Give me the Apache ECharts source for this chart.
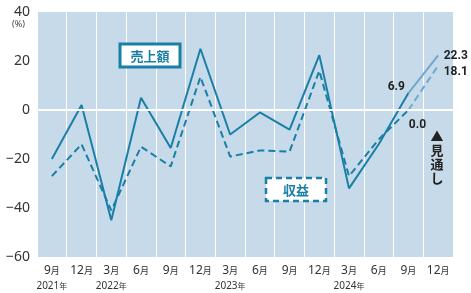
<!DOCTYPE html>
<html>
<head>
<meta charset="utf-8">
<script src="https://cdn.jsdelivr.net/npm/echarts@6/dist/echarts.min.js"></script>
<style>
  html, body { margin: 0; padding: 0; background: #fff; }
  #chart { width: 471px; height: 293px; }
</style>
</head>
<body>
<div id="chart"></div>
<script>
// 四半期(月)ラベル
var months = ['9', '12', '3', '6', '9', '12', '3', '6', '9', '12', '3', '6', '9', '12'];
var years = ['2021', '', '2022', '', '', '', '2023', '', '', '', '2024', '', '', ''];
var yTicks = [-60, -40, -20, 0, 20, 40];
// 売上額 (実績)
var sales = [-20, 2, -45, 5, -15.5, 25, -10, -1, -8, 22.4, -32, -14, 6.9, null];
// 収益 (実績)
var profit = [-27, -14, -41, -15, -23, 13.5, -19, -16.5, -17, 16, -27, -12, 0.0, null];
// 見通し
var salesOutlook = [null, null, null, null, null, null, null, null, null, null, null, null, 6.9, 22.3];
var profitOutlook = [null, null, null, null, null, null, null, null, null, null, null, null, 0.0, 18.1];

var main = '#1a7fa6';
var light = '#6fa9cd';

var chart = echarts.init(document.getElementById('chart'));

var numLabel = {
  color: '#222',
  fontSize: 12,
  fontWeight: 'bold',
  fontFamily: 'Roboto, sans-serif',
  formatter: function (p) { return Number(p.value).toFixed(1); }
};

function labelled(arr, pos) {
  return arr.map(function (v, i) {
    if (v === null) return null;
    if (!pos[i]) return v;
    return { value: v, label: Object.assign({ show: true }, numLabel, pos[i]) };
  });
}

var option = {
  animation: false,
  grid: {
    left: 37, right: 18, top: 12, bottom: 36,
    show: true,
    backgroundColor: '#c6dae9',
    borderWidth: 0
  },
  xAxis: {
    type: 'category',
    data: months,
    boundaryGap: true,
    axisLine: { show: false },
    axisTick: { show: false },
    splitLine: { show: true, lineStyle: { color: '#fff', width: 1 } },
    axisLabel: {
      margin: 6,
      interval: 0,
      formatter: function (v, i) {
        var s = '{m|' + v + '}{s|月}';
        if (years[i]) s += '\n{y|' + years[i] + '}{ys|年}';
        return s;
      },
      rich: {
        m: { fontSize: 12, color: '#333', fontFamily: 'Noto Sans, sans-serif', lineHeight: 16 },
        s: { fontSize: 9, color: '#333', fontFamily: 'Noto Sans CJK JP', lineHeight: 16 },
        y: { fontSize: 10, color: '#333', fontFamily: 'Noto Sans, sans-serif', lineHeight: 14 },
        ys: { fontSize: 8, color: '#333', fontFamily: 'Noto Sans CJK JP', lineHeight: 14 }
      }
    }
  },
  yAxis: {
    type: 'value',
    min: -60, max: 40, interval: 20,
    axisLine: { show: false },
    axisTick: { show: false },
    splitLine: { show: false },
    axisLabel: {
      margin: 7,
      color: '#333',
      fontSize: 14,
      fontFamily: 'Noto Sans, sans-serif',
      formatter: function (v) { return yTicks.indexOf(v) >= 0 ? String(v).replace('-', '−') : ''; }
    }
  },
  graphic: [
    { type: 'text', left: 12, top: 20, style: { text: '(%)', fontSize: 9, fill: '#444', fontFamily: 'Noto Sans, sans-serif' } },
    { type: 'rect', shape: { x: 120, y: 44, width: 60, height: 23 },
      style: { fill: '#fff', stroke: main, lineWidth: 3 }, z: 10 },
    { type: 'text', x: 150, y: 56, z: 11,
      style: { text: '売上額', fontSize: 13, fontWeight: 'bold', fill: main, align: 'center', verticalAlign: 'middle', fontFamily: 'Noto Sans CJK JP' } },
    { type: 'rect', shape: { x: 266, y: 178, width: 60, height: 23 },
      style: { fill: '#fff', stroke: main, lineWidth: 2.5, lineDash: [6, 4] }, z: 10 },
    { type: 'text', x: 296, y: 190, z: 11,
      style: { text: '収益', fontSize: 13, fontWeight: 'bold', fill: main, align: 'center', verticalAlign: 'middle', fontFamily: 'Noto Sans CJK JP' } },
    { type: 'text', x: 437, y: 129, z: 11,
      style: { text: '▲\n見\n通\nし', fontSize: 13, fontWeight: 'bold', fill: '#222', align: 'center', lineHeight: 14, fontFamily: 'Noto Sans CJK JP' } }
  ],
  series: [
    {
      type: 'line', data: [], silent: true,
      markLine: {
        silent: true, symbol: 'none', label: { show: false },
        lineStyle: { color: '#fff', width: 2, type: 'solid' },
        data: [{ yAxis: 0 }]
      }
    },
    {
      name: '収益', type: 'line', data: profit, showSymbol: false,
      lineStyle: { color: main, width: 2, type: [7, 4] }, z: 3
    },
    {
      name: '収益見通し', type: 'line', showSymbol: true, symbol: 'circle', symbolSize: 1,
      itemStyle: { color: 'rgba(0,0,0,0)' },
      data: labelled(profitOutlook, {
        12: { position: 'bottom', offset: [9, 3] },
        13: { position: 'right', offset: [0, 6] }
      }),
      lineStyle: { color: light, width: 2, type: [7, 4] }, z: 3
    },
    {
      name: '売上額', type: 'line', data: sales, showSymbol: false,
      lineStyle: { color: main, width: 2 }, z: 4
    },
    {
      name: '売上額見通し', type: 'line', showSymbol: true, symbol: 'circle', symbolSize: 1,
      itemStyle: { color: 'rgba(0,0,0,0)' },
      data: labelled(salesOutlook, {
        12: { position: 'left', distance: 3, offset: [0, -6] },
        13: { position: 'right', offset: [0, 1] }
      }),
      lineStyle: { color: light, width: 2 }, z: 4
    }
  ]
};

chart.setOption(option);
</script>
</body>
</html>
